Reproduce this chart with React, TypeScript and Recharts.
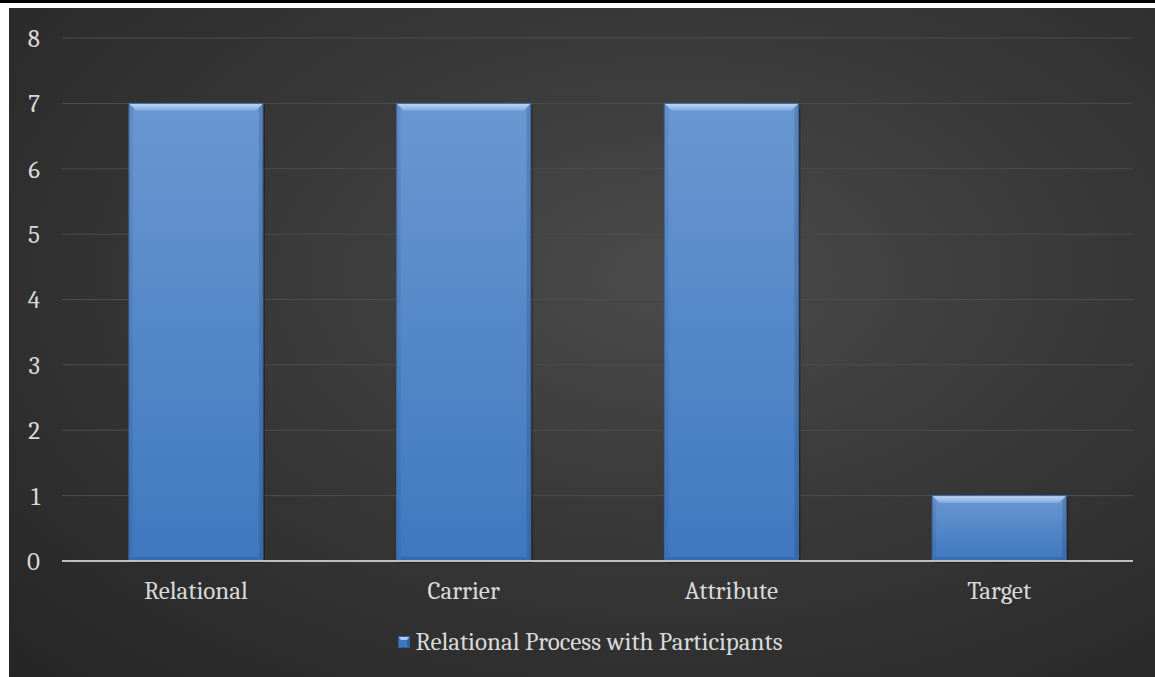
import React from "react";
import { BarChart, Bar, XAxis, YAxis, CartesianGrid, Legend } from "recharts";

const categories = ["Relational", "Carrier", "Attribute", "Target"];
const values = [7, 7, 7, 1];
const yTicks = [0, 1, 2, 3, 4, 5, 6, 7, 8];
const seriesName = "Relational Process with Participants";

const data = categories.map((c, i) => ({ name: c, value: values[i] }));

const FONT = "Cambria, 'DejaVu Serif', 'Liberation Serif', serif";
const TEXT = "#d9d9d9";
const FS = 25;

const BevelBar = (props: any) => {
  const { x, y, width: w, height: h } = props;
  if (!w || !h || h <= 0) return null;
  const b = Math.min(7, h / 2);
  const s = 4;
  return (
    <g>
      <rect x={x + 2} y={y + 2} width={w} height={h} fill="rgba(0,0,0,0.3)" />
      <rect x={x} y={y} width={w} height={h} fill="url(#barGrad)" />
      <polygon
        points={`${x},${y} ${x + s},${y + s} ${x + s},${y + h - s} ${x},${y + h}`}
        fill="rgba(0,0,0,0.06)"
      />
      <polygon
        points={`${x + w},${y} ${x + w - s},${y + s} ${x + w - s},${y + h - s} ${x + w},${y + h}`}
        fill="rgba(0,0,0,0.12)"
      />
      <polygon
        points={`${x},${y + h} ${x + s},${y + h - s} ${x + w - s},${y + h - s} ${x + w},${y + h}`}
        fill="rgba(0,0,0,0.10)"
      />
      <polygon
        points={`${x},${y} ${x + w},${y} ${x + w - b},${y + b} ${x + b},${y + b}`}
        fill="url(#topGrad)"
      />
      <rect x={x} y={y} width={w} height={h} fill="none" stroke="#3a6aa6" strokeWidth={1} />
    </g>
  );
};

const LegendContent = (props: any) => {
  const payload = props.payload || [];
  return (
    <div style={{ display: "flex", justifyContent: "center", alignItems: "center", lineHeight: "30px" }}>
      {payload.map((p: any) => (
        <div key={p.value} style={{ display: "flex", alignItems: "center" }}>
          <svg width={12} height={12} style={{ marginRight: 6 }}>
            <rect x={0} y={0} width={12} height={12} fill="#3f78c0" />
            <polygon points="0,0 12,0 9,4 3,4" fill="#a9c9f2" />
            <polygon points="12,0 12,12 9,9 9,4" fill="rgba(0,0,0,0.2)" />
            <rect x={0.5} y={0.5} width={11} height={11} fill="none" stroke="#2f5f9a" />
          </svg>
          <span style={{ color: TEXT, fontFamily: FONT, fontSize: FS }}>{seriesName}</span>
        </div>
      ))}
    </div>
  );
};

export default function App() {
  return (
    <div style={{ position: "absolute", left: 0, top: 0, width: 1155, height: 677, background: "#fff", overflow: "hidden" }}>
      <div style={{ position: "absolute", left: 0, top: 0, width: 1155, height: 3, background: "#000" }} />
      <div
        style={{
          position: "absolute",
          left: 9,
          top: 8,
          width: 1146,
          height: 669,
          background: "radial-gradient(ellipse at 58% 40%, #4b4b4b 0%, #3a3a3a 40%, #252525 100%)",
        }}
      >
        <BarChart
          width={1146}
          height={669}
          data={data}
          margin={{ top: 30, right: 22, bottom: 22, left: 0 }}
          barCategoryGap="25%"
        >
          <defs>
            <linearGradient id="barGrad" x1="0" y1="0" x2="0" y2="1">
              <stop offset="0%" stopColor="#6a97d1" />
              <stop offset="100%" stopColor="#3f78c0" />
            </linearGradient>
            <linearGradient id="topGrad" x1="0" y1="0" x2="0" y2="1">
              <stop offset="0%" stopColor="#bcd7f7" />
              <stop offset="100%" stopColor="#84ade1" />
            </linearGradient>
          </defs>
          <CartesianGrid vertical={false} stroke="#4d4d4d" strokeWidth={1} />
          <XAxis
            dataKey="name"
            axisLine={{ stroke: "#bfbfbf", strokeWidth: 2 }}
            tickLine={false}
            tickSize={0}
            tickMargin={20}
            tick={{ fill: TEXT, fontFamily: FONT, fontSize: FS }}
            height={50}
          />
          <YAxis
            domain={[0, 8]}
            ticks={yTicks}
            axisLine={false}
            tickLine={false}
            tickSize={0}
            tickMargin={22}
            width={53}
            tick={{ fill: TEXT, fontFamily: FONT, fontSize: FS }}
          />
          <Legend
            verticalAlign="bottom"
            height={44}
            content={<LegendContent />}
            wrapperStyle={{ top: 619, bottom: "auto", left: 19, width: 1124 }}
          />
          <Bar dataKey="value" name={seriesName} shape={<BevelBar />} isAnimationActive={false} />
        </BarChart>
      </div>
    </div>
  );
}
